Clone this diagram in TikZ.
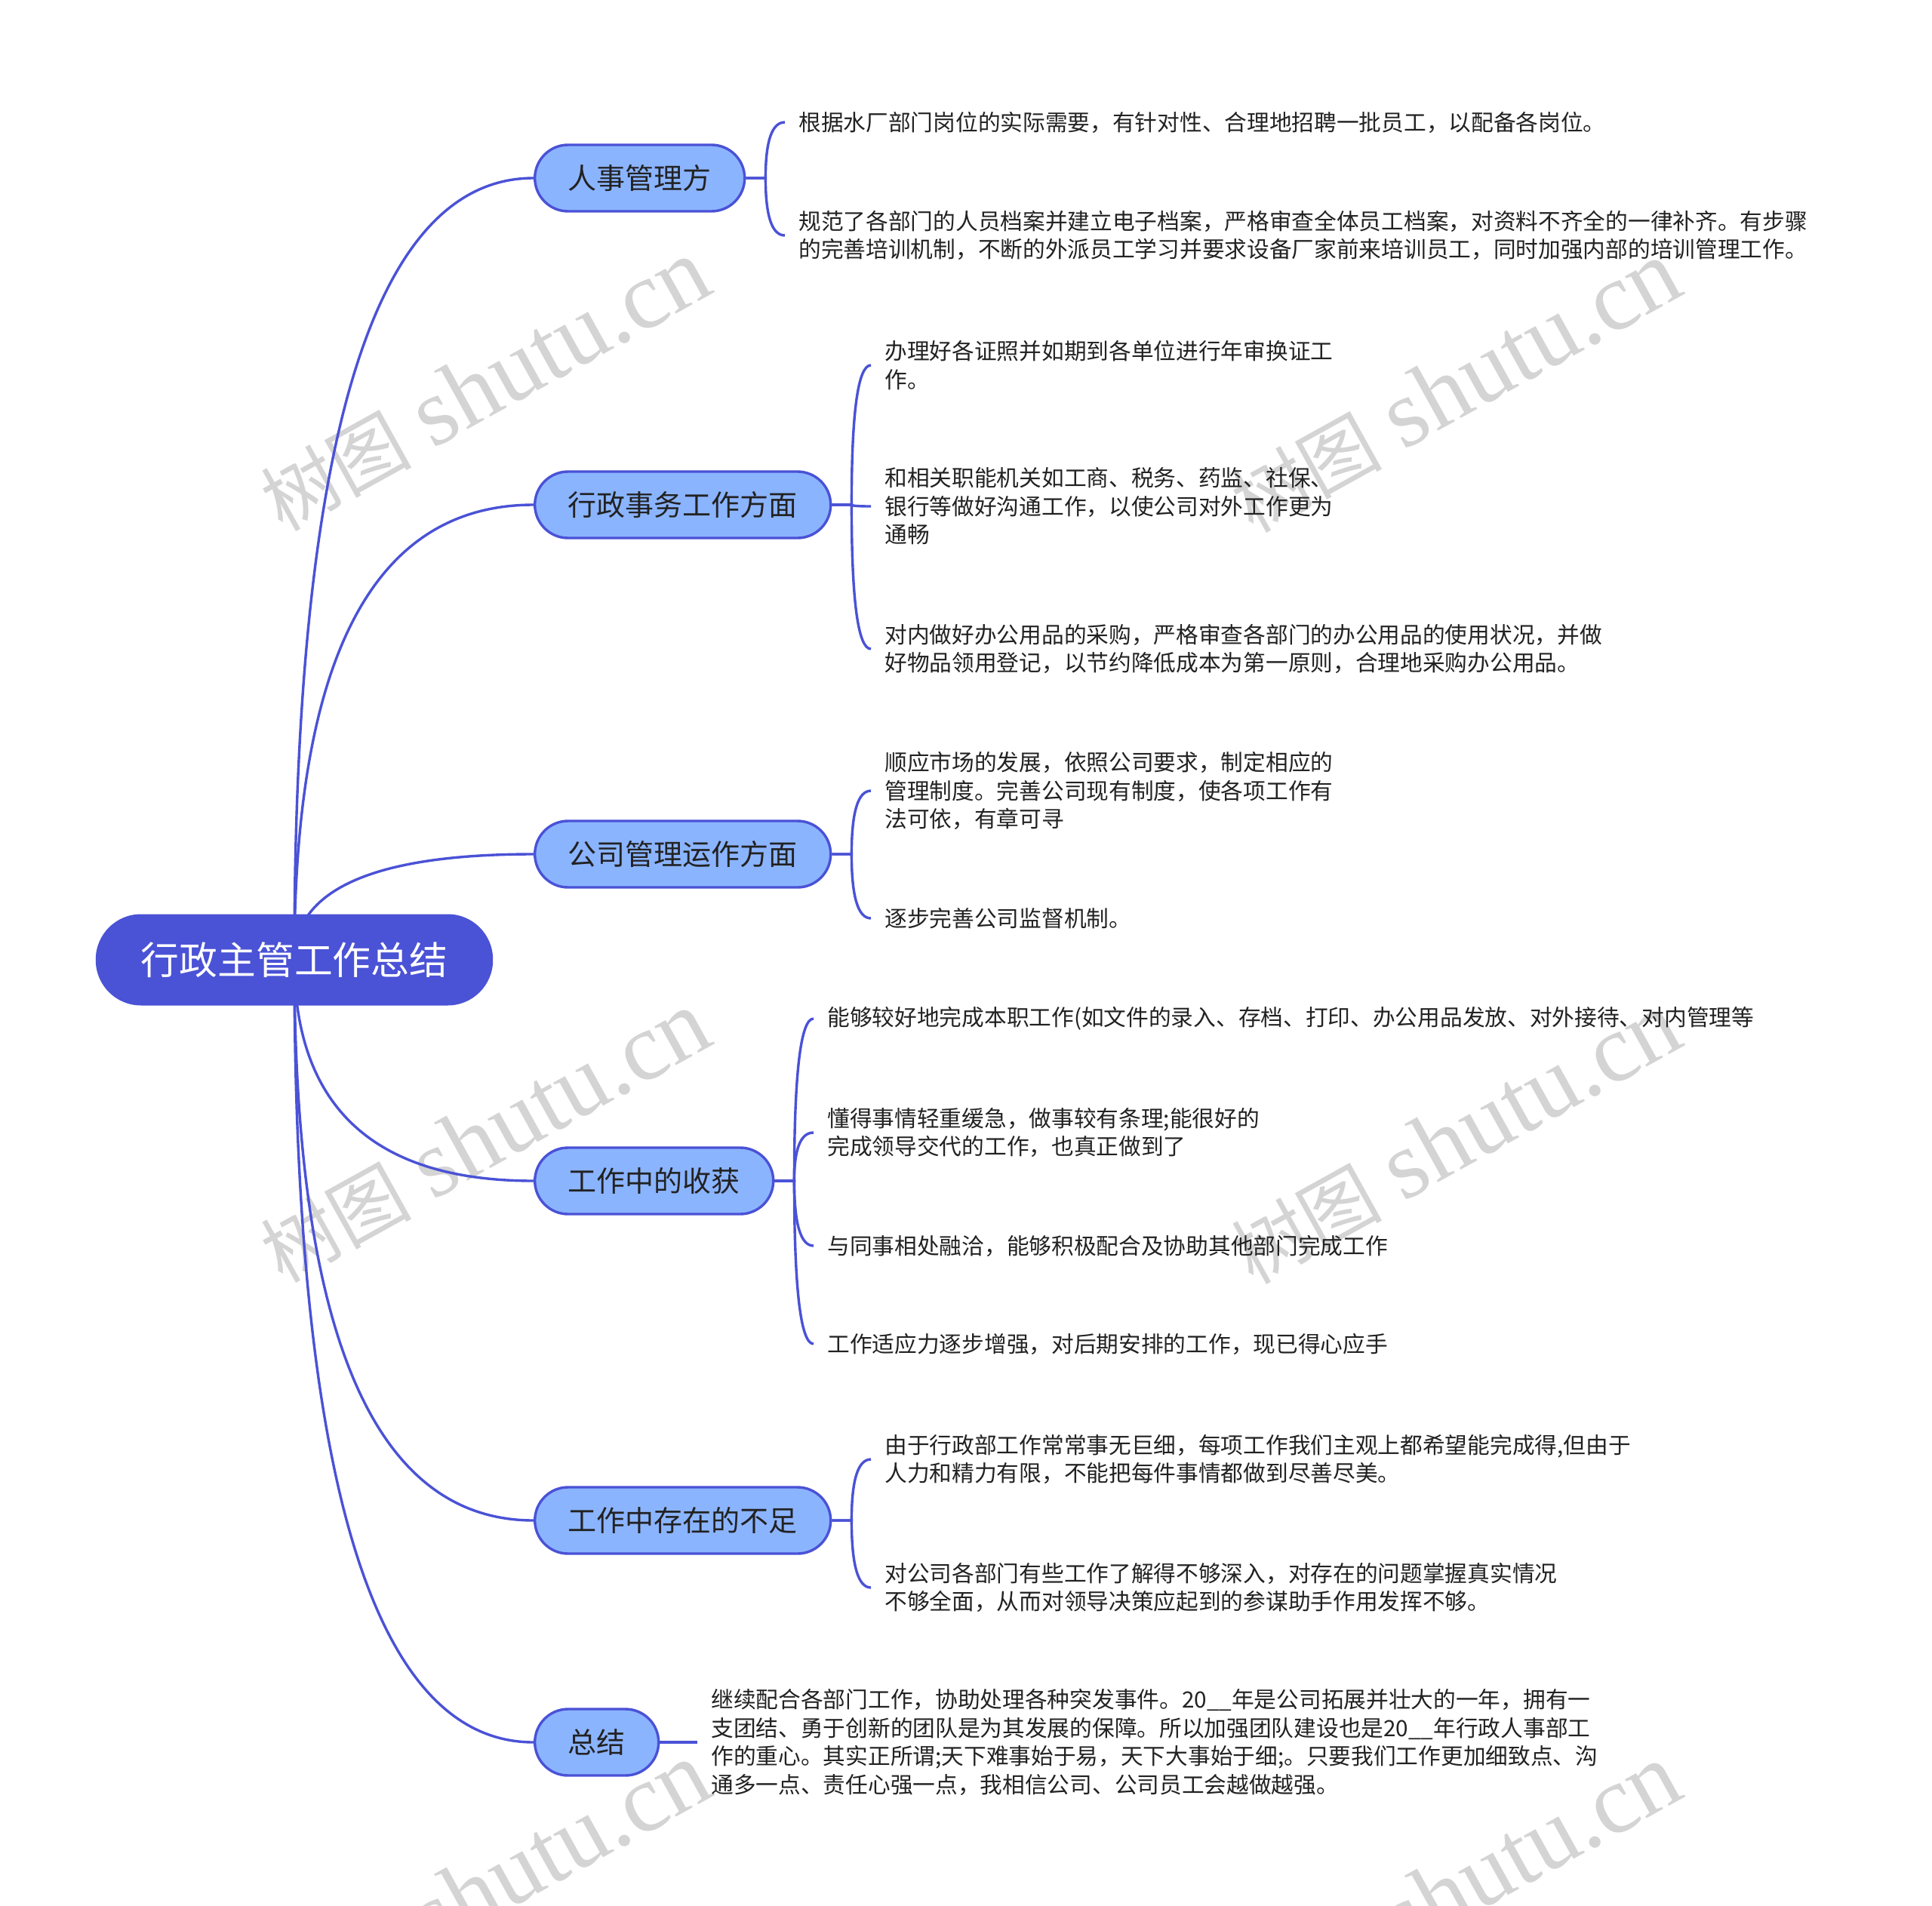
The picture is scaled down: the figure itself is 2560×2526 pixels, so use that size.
\documentclass[tikz,border=0pt]{standalone}
\usepackage{fontspec}
\setmainfont{Noto Sans CJK SC}
\newfontfamily\wmlatin{Liberation Serif}
\usetikzlibrary{calc}
\pgfdeclarelayer{wm}
\pgfdeclarelayer{bg}
\pgfsetlayers{wm,bg,main}
\definecolor{rootc}{RGB}{74,82,214}
\definecolor{subc}{RGB}{139,180,255}
\definecolor{txtc}{RGB}{34,34,34}
\definecolor{wmc}{RGB}{212,212,212}
\tikzset{
 rootnode/.style={fill=rootc, draw=none, rounded corners=30pt, minimum height=60.5pt, inner xsep=30pt, inner ysep=0pt, text=white, font=\fontsize{25.4}{30}\selectfont},
 subnode/.style={fill=subc, draw=rootc, line width=1.7pt, rounded corners=22pt, minimum height=44pt, inner xsep=22pt, inner ysep=0pt, text=txtc, font=\fontsize{19}{23}\selectfont, anchor=west},
 leaf/.style={anchor=west, align=left, inner xsep=9pt, inner ysep=2pt, text=txtc, font=\fontsize{14.85}{18.75}\selectfont},
 conn/.style={draw=rootc, line width=1.7pt},
 wmark/.style={text=wmc, rotate=29, anchor=base, inner sep=0pt},
}
\newcommand\wmtext{{\fontsize{50}{60}\selectfont 树图}\hspace{14pt}{\wmlatin\fontsize{64}{70}\selectfont shutu.cn}}
\newcommand\rootlink[1]{%
 \path (root.center |- #1.west) coordinate (kk);
 \draw[conn] (root.center) .. controls ($(root.center)!0.6667!(kk)$) and ($(#1.west)!0.6667!(kk)$) .. (#1.west);}
\newcommand\brlink[2]{%
 \path ($(#1.east)+(26,0)$) coordinate (ss);
 \path (ss |- #2.west) coordinate (kk);
 \draw[conn] (#1.east) -- (ss) .. controls ($(ss)!0.6667!(kk)$) and ($(#2.west)!0.6667!(kk)$) .. (#2.west);}
\begin{document}
\begin{tikzpicture}[x=0.5pt,y=-0.5pt]
\useasboundingbox (0,0) rectangle (2560,2526);
\begin{pgfonlayer}{wm}
\fill[white] (0,0) rectangle (2560,2526);
\node[wmark] (w1) at (662,546) {\wmtext};
\node[wmark] (w2) at (1948,548) {\wmtext};
\node[wmark] (w3) at (662,1542) {\wmtext};
\node[wmark] (w4) at (1948,1544) {\wmtext};
\node[wmark] (w5) at (662,2538) {\wmtext};
\node[wmark] (w6) at (1948,2540) {\wmtext};
\end{pgfonlayer}

\node[rootnode] (root) at (390,1272) {行政主管工作总结};

\node[subnode] (n1) at (707,236) {人事管理方};
\node[subnode] (n2) at (707,669) {行政事务工作方面};
\node[subnode] (n3) at (707,1132) {公司管理运作方面};
\node[subnode] (n4) at (707,1565) {工作中的收获};
\node[subnode] (n5) at (707,2015) {工作中存在的不足};
\node[subnode] (n6) at (707,2309) {总结};

\node[leaf] (a1) at (1040,162) {根据水厂部门岗位的实际需要，有针对性、合理地招聘一批员工，以配备各岗位。};
\node[leaf] (a2) at (1040,312) {规范了各部门的人员档案并建立电子档案，严格审查全体员工档案，对资料不齐全的一律补齐。有步骤\\的完善培训机制，不断的外派员工学习并要求设备厂家前来培训员工，同时加强内部的培训管理工作。};

\node[leaf] (b1) at (1154,484) {办理好各证照并如期到各单位进行年审换证工\\作。};
\node[leaf] (b2) at (1154,671) {和相关职能机关如工商、税务、药监、社保、\\银行等做好沟通工作，以使公司对外工作更为\\通畅};
\node[leaf] (b3) at (1154,860) {对内做好办公用品的采购，严格审查各部门的办公用品的使用状况，并做\\好物品领用登记，以节约降低成本为第一原则，合理地采购办公用品。};

\node[leaf] (c1) at (1154,1048) {顺应市场的发展，依照公司要求，制定相应的\\管理制度。完善公司现有制度，使各项工作有\\法可依，有章可寻};
\node[leaf] (c2) at (1154,1217) {逐步完善公司监督机制。};

\node[leaf] (d1) at (1078,1350) {能够较好地完成本职工作(如文件的录入、存档、打印、办公用品发放、对外接待、对内管理等};
\node[leaf] (d2) at (1078,1501) {懂得事情轻重缓急，做事较有条理;能很好的\\完成领导交代的工作，也真正做到了};
\node[leaf] (d3) at (1078,1651) {与同事相处融洽，能够积极配合及协助其他部门完成工作};
\node[leaf] (d4) at (1078,1781) {工作适应力逐步增强，对后期安排的工作，现已得心应手};

\node[leaf] (e1) at (1154,1934) {由于行政部工作常常事无巨细，每项工作我们主观上都希望能完成得,但由于\\人力和精力有限，不能把每件事情都做到尽善尽美。};
\node[leaf] (e2) at (1154,2104) {对公司各部门有些工作了解得不够深入，对存在的问题掌握真实情况\\不够全面，从而对领导决策应起到的参谋助手作用发挥不够。};

\node[leaf] (f1) at (924,2309) {继续配合各部门工作，协助处理各种突发事件。20\_\_年是公司拓展并壮大的一年，拥有一\\支团结、勇于创新的团队是为其发展的保障。所以加强团队建设也是20\_\_年行政人事部工\\作的重心。其实正所谓;天下难事始于易，天下大事始于细;。只要我们工作更加细致点、沟\\通多一点、责任心强一点，我相信公司、公司员工会越做越强。};

\begin{pgfonlayer}{bg}
\rootlink{n1}
\rootlink{n2}
\rootlink{n3}
\rootlink{n4}
\rootlink{n5}
\rootlink{n6}
\brlink{n1}{a1}
\brlink{n1}{a2}
\brlink{n2}{b1}
\brlink{n2}{b2}
\brlink{n2}{b3}
\brlink{n3}{c1}
\brlink{n3}{c2}
\brlink{n4}{d1}
\brlink{n4}{d2}
\brlink{n4}{d3}
\brlink{n4}{d4}
\brlink{n5}{e1}
\brlink{n5}{e2}
\draw[conn] (n6.east) -- (f1.west);
\end{pgfonlayer}
\end{tikzpicture}
\end{document}
